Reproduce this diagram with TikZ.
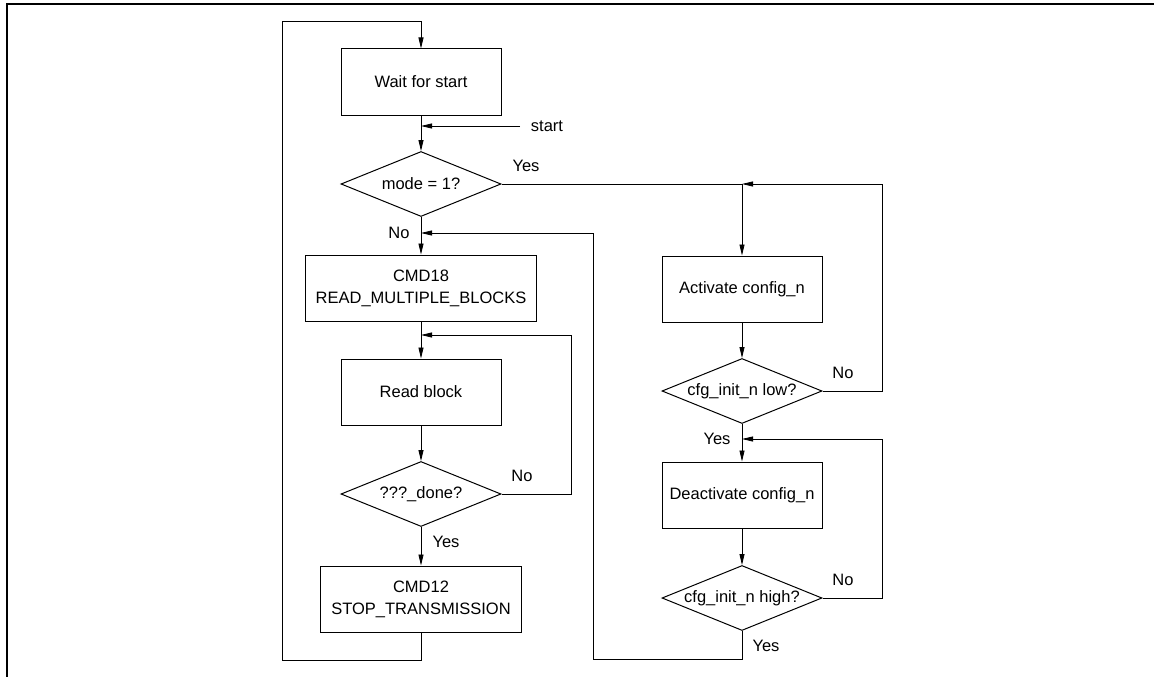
\documentclass[tikz,border=0pt]{standalone}
\usepackage{fontspec}
\setmainfont{Liberation Sans}
\usetikzlibrary{shapes.geometric,arrows.meta}
\newcommand{\flowfont}{\fontsize{16.5}{22}\selectfont}
\newcommand{\dtext}[1]{\makebox[0pt]{#1}}
\tikzset{
  proc/.style={draw, line width=1pt, minimum width=160pt, minimum height=66pt, inner sep=0pt, align=center, font=\flowfont},
  test/.style={diamond, draw, line width=1pt, minimum width=160pt, minimum height=65pt, inner sep=0pt, font=\flowfont},
  wire/.style={draw, line width=0.8pt},
  flow/.style={wire, -{Triangle[length=11pt,width=5pt]}},
  lab/.style={font=\flowfont, inner sep=0pt},
}

\begin{document}
\begin{tikzpicture}[x=1pt,y=-1pt]
  \useasboundingbox (0,0) rectangle (1154,677);
  \draw[line width=2pt] (7,677) -- (7,4) -- (1154,4);

  % left column
  \node[proc] (wait) at (421,82) {Wait for start};
  \node[test] (mode) at (421,184) {\dtext{mode = 1?}};
  \node[proc, minimum width=231pt] (cmd18) at (421,288) {CMD18\\READ\_MULTIPLE\_BLOCKS};
  \node[proc] (read) at (421,392) {Read block};
  \node[test] (done) at (421,494) {\dtext{???\_done?}};
  \node[proc, minimum width=201pt] (cmd12) at (421,599) {CMD12\\STOP\_TRANSMISSION};

  % right column
  \node[proc] (act) at (742,289) {Activate config\_n};
  \node[test] (low) at (742,391) {\dtext{cfg\_init\_n low?}};
  \node[proc] (deact) at (742,495) {Deactivate config\_n};
  \node[test] (high) at (742,598) {\dtext{cfg\_init\_n high?}};

  % junctions and corners
  \coordinate (start) at (520,126);
  \coordinate (jstart) at (421,126);
  \coordinate (jyes) at (mode.east -| act.north);
  \coordinate (jno) at (421,233);
  \coordinate (jread) at (421,335);
  \coordinate (jdeact) at (742,439);
  \coordinate (topL) at (282,21);
  \coordinate (botL) at (282,660);
  \coordinate (retL) at (593,659);

  \draw[flow] (wait) -- (mode);
  \draw[flow] (start) -- (jstart);
  \draw[flow] (mode) -- (cmd18);
  \draw[flow] (cmd18) -- (read);
  \draw[flow] (read) -- (done);
  \draw[flow] (done) -- (cmd12);
  \draw[flow] (done.east) -- ++(70,0) |- (jread);
  \draw[flow] (cmd12.south) |- (botL) -- (topL) -| (wait.north);

  \draw[wire] (mode.east) -- (jyes);
  \draw[flow] (jyes) -- (act);
  \draw[flow] (act) -- (low);
  \draw[flow] (low.east) -- ++(60,0) |- (jyes);
  \draw[flow] (low) -- (deact);
  \draw[flow] (deact) -- (high);
  \draw[flow] (high.east) -- ++(60,0) |- (jdeact);
  \draw[flow] (high.south) |- (retL) |- (jno);

  % labels
  \node[lab] (startlab) at (547,126) {start};
  \node[lab] (yes1) at (526,166) {Yes};
  \node[lab] (no1) at (399,233) {No};
  \node[lab] (no2) at (522,476) {No};
  \node[lab] (yes2) at (446,542) {Yes};
  \node[lab] (no3) at (843,373) {No};
  \node[lab] (yes3) at (717,439) {Yes};
  \node[lab] (no4) at (843,580) {No};
  \node[lab] (yes4) at (766,646) {Yes};
\end{tikzpicture}
\end{document}
